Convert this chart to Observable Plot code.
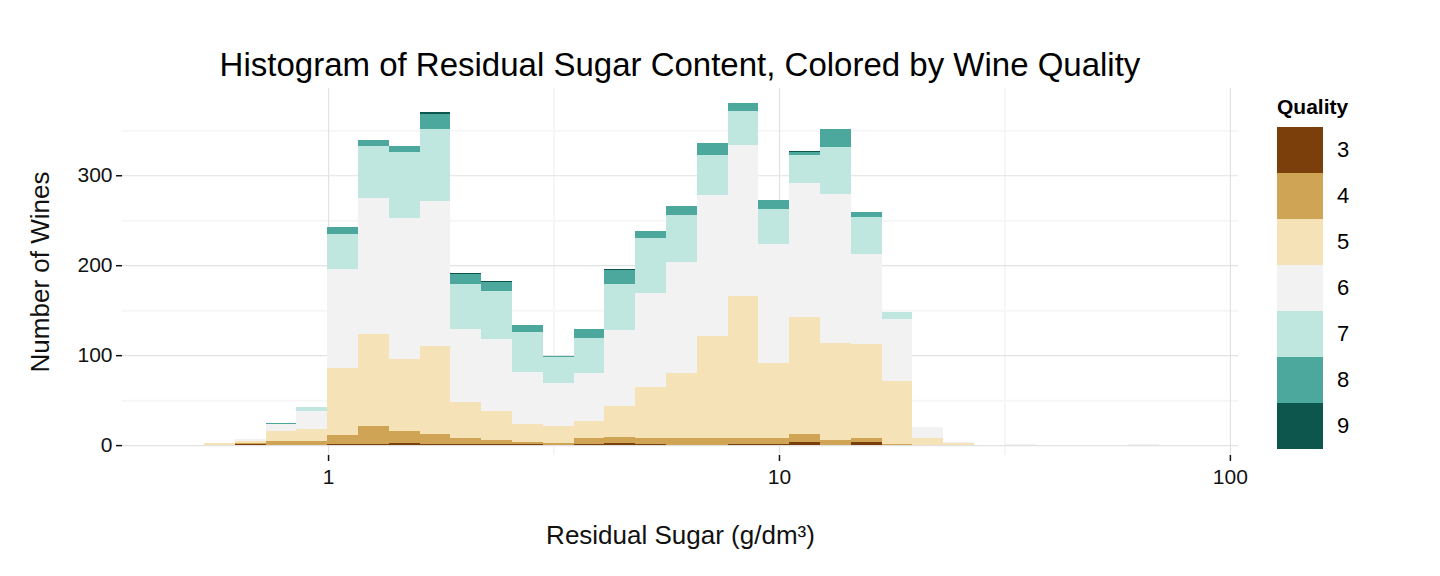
<!DOCTYPE html>
<html>
<head>
<meta charset="utf-8">
<script src="https://cdn.jsdelivr.net/npm/d3@7"></script>
<script src="https://cdn.jsdelivr.net/npm/@observablehq/plot@0.6"></script>
<style>
  body { margin: 0; background: #fff; font-family: "Liberation Sans", Arial, sans-serif; }
  #wrap { position: relative; width: 1440px; height: 576px; }
  #title { height: 88px; line-height: 130px; text-align: center; font-size: 33px; width: 1360px; }
  #legend { position: absolute; left: 1277px; top: 95px; font-size: 22px; }
  #legend .ttl { font-weight: bold; font-size: 21px; margin-bottom: 8px; }
  #legend .row { display: flex; align-items: center; height: 46px; }
  #legend .sw { width: 46px; height: 46px; margin-right: 14px; }
</style>
</head>
<body>
<div id="wrap">
  <div id="title">Histogram of Residual Sugar Content, Colored by Wine Quality</div>
  <div id="chart"></div>
  <div id="legend"></div>
</div>
<script>
// bins in log10 space
const binStart = -0.275;
const binWidth = 0.0683;
const qualities = ["3", "4", "5", "6", "7", "8", "9"];
const colors = ["#7a3f0b", "#cfa454", "#f5e2b6", "#f2f2f2", "#c0e6e0", "#4ca89c", "#0c564d"];
const q3 = [0,1,0,0,1,1,2,1,1,1,1,0,1,2,1,0,0,1,1,3,0,3,0,0,0,0,0,0,0,0,0];
const q4 = [0,1,5,5,10,20,14,11,7,5,2,2,7,7,7,8,8,7,7,9,6,5,1,0,0,0,0,0,0,0,0];
const q5 = [2,3,11,13,75,103,80,98,40,32,20,19,19,34,57,72,113,158,83,130,107,104,70,8,2,0,0,0,0,0,0];
const q6 = [0,2,7,20,110,151,156,161,81,80,58,48,53,85,104,124,157,168,133,149,166,100,69,12,1,0,1,0,0,0,1];
const q7 = [0,0,1,4,39,57,74,80,50,53,45,29,39,51,61,52,44,37,38,31,52,42,8,0,0,0,0,0,0,0,0];
const q8 = [0,0,1,0,7,7,6,17,11,10,7,1,10,16,8,10,14,9,10,4,20,5,0,0,0,0,0,0,0,0,0];
const q9 = [0,0,0,0,0,0,0,2,1,1,0,0,0,1,0,0,0,0,0,1,0,0,0,0,0,0,0,0,0,0,0];
const series = [q3, q4, q5, q6, q7, q8, q9];
const yTicks = [0, 100, 200, 300];
const yMinor = [50, 150, 250, 350];
const xTicks = [1, 10, 100];
const xMinor = [Math.sqrt(10), Math.sqrt(1000)];

const rows = [];
for (let b = 0; b < q3.length; b++) {
  const x1 = Math.pow(10, binStart + b * binWidth);
  const x2 = Math.pow(10, binStart + (b + 1) * binWidth);
  series.forEach((s, i) => rows.push({x1, x2, q: qualities[i], n: s[b]}));
}

const chart = Plot.plot({
  width: 1440,
  height: 488,
  marginLeft: 122,
  marginRight: 202,
  marginTop: 0,
  marginBottom: 121,
  style: { "font-family": "Liberation Sans, Arial, sans-serif", "font-size": "21px", color: "#111" },
  x: { type: "log", domain: [Math.pow(10, -0.457), Math.pow(10, 2.018)], label: null },
  y: { domain: [-11, 397], label: null },
  color: { domain: qualities, range: colors },
  marks: [
    Plot.ruleY(yMinor, { stroke: "#f6f6f6", strokeWidth: 2 }),
    Plot.ruleX(xMinor, { stroke: "#f6f6f6", strokeWidth: 2 }),
    Plot.ruleY(yTicks, { stroke: "#e2e2e2", strokeWidth: 1.2 }),
    Plot.ruleX(xTicks, { stroke: "#e2e2e2", strokeWidth: 1.2 }),
    Plot.rectY(rows, { x1: "x1", x2: "x2", y: "n", fill: "q", z: "q", inset: 0, shapeRendering: "crispEdges" }),
    Plot.axisX({ ticks: xTicks, tickFormat: d => String(d), tickSize: 6, tickPadding: 8, fontSize: 21, strokeWidth: 1.5 }),
    Plot.axisY({ ticks: yTicks, tickSize: 6, tickPadding: 4, fontSize: 21, strokeWidth: 1.5 }),
    Plot.text(["Residual Sugar (g/dm³)"], { frameAnchor: "bottom", textAnchor: "middle", dy: 88, fontSize: 26 }),
    Plot.text(["Number of Wines"], { frameAnchor: "left", textAnchor: "middle", dx: -82, rotate: -90, fontSize: 26 })
  ]
});
document.getElementById("chart").appendChild(chart);

const leg = document.getElementById("legend");
leg.innerHTML = `<div class="ttl">Quality</div>` + qualities.map((q, i) =>
  `<div class="row"><div class="sw" style="background:${colors[i]}"></div>${q}</div>`).join("");
</script>
</body>
</html>
